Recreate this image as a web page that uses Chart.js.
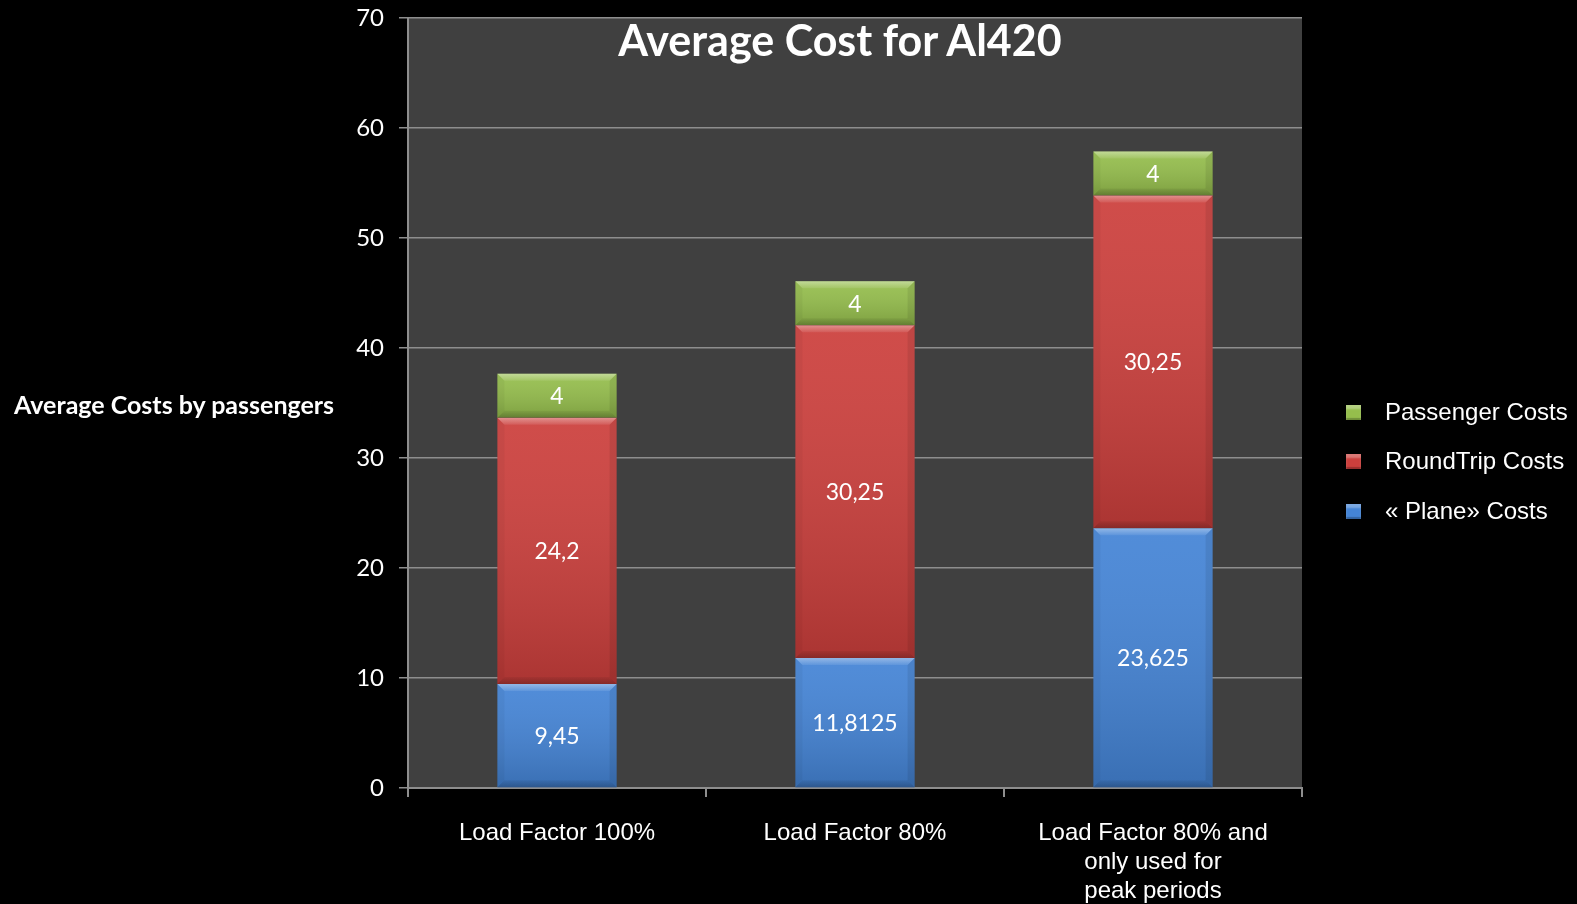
<!DOCTYPE html>
<html>
<head>
<meta charset="utf-8">
<script src="https://cdn.jsdelivr.net/npm/chart.js@4/dist/chart.umd.min.js"></script>
<style>
  html, body { margin: 0; padding: 0; background: #000; }
  #wrap { position: relative; width: 1577px; height: 904px; overflow: hidden; }
  #chart { position: absolute; left: 0; top: 0; }
  .title {
    position: absolute; left: 840px; top: 39px; transform: translate(-50%, -50%);
    color: #fff; font: bold 43px Lato, sans-serif; white-space: nowrap;
  }
  .ytitle {
    position: absolute; left: 14px; top: 404px; transform: translateY(-50%);
    color: #fff; font: bold 25px Lato, sans-serif; white-space: nowrap;
  }
  .legend { position: absolute; left: 1346px; top: 0; }
  .legend .item { position: absolute; left: 0; height: 30px; white-space: nowrap; }
  .legend .box {
    position: absolute; left: 0; top: 7px; width: 15px; height: 15px;
    box-shadow: inset 0 4px 2px rgba(255,255,255,0.3), inset 0 -2px 1px rgba(0,0,0,0.25);
  }
  .legend .txt {
    position: absolute; left: 39px; top: 0; line-height: 30px;
    color: #fff; font: 24px "Liberation Sans", Arial, sans-serif;
  }
</style>
</head>
<body>
<div id="wrap">
  <canvas id="chart" width="1577" height="904"></canvas>
  <div class="title">Average Cost for Al420</div>
  <div class="ytitle">Average Costs by passengers</div>
  <div class="legend" id="legend"></div>
</div>
<script>
// categories and series
const categories = [
  "Load Factor 100%",
  "Load Factor 80%",
  ["Load Factor 80% and", "only used for", "peak periods"]
];
const planeCosts     = [9.45, 11.8125, 23.625];
const roundTripCosts = [24.2, 30.25, 30.25];
const passengerCosts = [4, 4, 4];

const yMin = 0, yMax = 70, yStep = 10;

const BLUE  = "#4484d6";
const RED   = "#cc3f3c";
const GREEN = "#95be4c";
const GRID  = "#8e8e8e";

const fmt = v => String(v).replace(".", ",");

// dark plot background
const plotBg = {
  id: "plotBg",
  beforeDraw(chart) {
    const { ctx, chartArea: a } = chart;
    ctx.save();
    ctx.fillStyle = "#404040";
    ctx.fillRect(a.left, a.top, a.right - a.left, a.bottom - a.top);
    ctx.restore();
  }
};

// bevelled look on each bar segment + value labels
const bevel = {
  id: "bevel",
  afterDatasetsDraw(chart) {
    const ctx = chart.ctx;
    chart.getSortedVisibleDatasetMetas().forEach(meta => {
      const values = chart.data.datasets[meta.index].data;
      meta.data.forEach((el, i) => {
        const p = el.getProps(["x", "y", "base", "width"], true);
        const x0 = p.x - p.width / 2, x1 = p.x + p.width / 2;
        const y0 = Math.min(p.y, p.base), y1 = Math.max(p.y, p.base);
        const b = 7;
        ctx.save();
        // vertical shading
        const g = ctx.createLinearGradient(0, y0, 0, y1);
        g.addColorStop(0, "rgba(255,255,255,0.07)");
        g.addColorStop(1, "rgba(0,0,0,0.16)");
        ctx.fillStyle = g;
        ctx.fillRect(x0, y0, x1 - x0, y1 - y0);
        const quad = (pts, c) => {
          ctx.beginPath();
          ctx.moveTo(pts[0], pts[1]);
          for (let k = 2; k < pts.length; k += 2) ctx.lineTo(pts[k], pts[k + 1]);
          ctx.closePath();
          ctx.fillStyle = c;
          ctx.fill();
        };
        const top = ctx.createLinearGradient(0, y0, 0, y0 + b);
        top.addColorStop(0, "rgba(255,255,255,0.38)");
        top.addColorStop(1, "rgba(255,255,255,0.08)");
        quad([x0, y0, x1, y0, x1 - b, y0 + b, x0 + b, y0 + b], top);
        const bot = ctx.createLinearGradient(0, y1 - b, 0, y1);
        bot.addColorStop(0, "rgba(0,0,0,0.05)");
        bot.addColorStop(1, "rgba(0,0,0,0.22)");
        quad([x0, y1, x1, y1, x1 - b, y1 - b, x0 + b, y1 - b], bot);
        quad([x0, y0, x0 + b, y0 + b, x0 + b, y1 - b, x0, y1], "rgba(0,0,0,0.04)");
        quad([x1, y0, x1 - b, y0 + b, x1 - b, y1 - b, x1, y1], "rgba(0,0,0,0.08)");
        // value label
        ctx.fillStyle = "#fff";
        ctx.font = "23px Lato, sans-serif";
        ctx.textAlign = "center";
        ctx.textBaseline = "middle";
        ctx.fillText(fmt(values[i]), p.x, (y0 + y1) / 2 + 1);
        ctx.restore();
      });
    });
  }
};

const datasets = [
  { label: "« Plane» Costs",    data: planeCosts,     backgroundColor: BLUE },
  { label: "RoundTrip Costs",   data: roundTripCosts, backgroundColor: RED },
  { label: "Passenger Costs",   data: passengerCosts, backgroundColor: GREEN }
];

const chart = new Chart(document.getElementById("chart"), {
  type: "bar",
  data: {
    labels: categories,
    datasets: datasets.map(d => Object.assign({
      barPercentage: 0.4,
      categoryPercentage: 1.0,
      borderWidth: 0
    }, d))
  },
  options: {
    responsive: false,
    animation: false,
    devicePixelRatio: 1,
    layout: { padding: { top: 18, right: 275, left: 0, bottom: 0 } },
    plugins: {
      legend: { display: false },
      title: { display: false },
      tooltip: { enabled: false }
    },
    scales: {
      x: {
        stacked: true,
        offset: true,
        grid: { display: true, drawOnChartArea: false, drawTicks: true, tickLength: 9, color: GRID, lineWidth: 2 },
        border: { color: GRID, width: 2 },
        ticks: {
          color: "#fff",
          font: { family: "'Liberation Sans', Arial, sans-serif", size: 24, lineHeight: 1.2 },
          padding: 22,
          maxRotation: 0,
          autoSkip: false
        },
        afterFit: s => { s.height = 116; }
      },
      y: {
        stacked: true,
        min: yMin,
        max: yMax,
        grid: { color: GRID, lineWidth: 1.5, tickLength: 9 },
        border: { color: GRID, width: 2 },
        ticks: {
          stepSize: yStep,
          color: "#fff",
          font: { family: "Lato, sans-serif", size: 24 },
          padding: 15
        },
        afterFit: s => { s.width = 408; s.paddingTop = 0; s.paddingBottom = 0; }
      }
    }
  },
  plugins: [plotBg, bevel]
});

// legend, top entry is the top stack segment
const legendEl = document.getElementById("legend");
const legendTops = [398, 447, 497];
datasets.slice().reverse().forEach((d, i) => {
  const item = document.createElement("div");
  item.className = "item";
  item.style.top = legendTops[i] + "px";
  item.innerHTML = '<div class="box" style="background:' + d.backgroundColor + '"></div>' +
                   '<div class="txt">' + d.label + '</div>';
  legendEl.appendChild(item);
});
</script>
</body>
</html>
